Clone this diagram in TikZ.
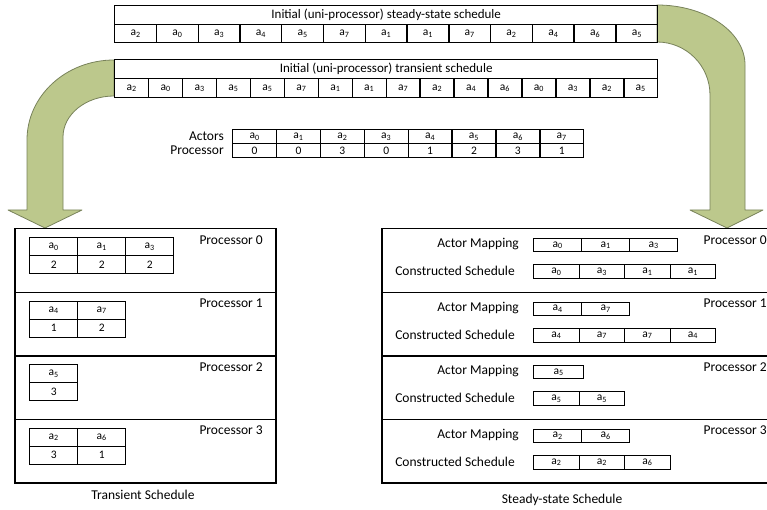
\documentclass[tikz,border=0pt]{standalone}
\usepackage{fontspec}
\setmainfont{Carlito}
\definecolor{arrowfill}{RGB}{188,200,140}
\definecolor{arrowline}{RGB}{120,130,90}
\newcommand{\arow}[6]{\foreach \t [count=\i from 0] in {#6} {\node[cell, minimum width=#4, minimum height=#5] (#1-\i) at ({#2+\i*#4},#3) {a\textsubscript{\t}};}}
\newcommand{\nrow}[6]{\foreach \t [count=\i from 0] in {#6} {\node[cell, minimum width=#4, minimum height=#5] (#1-\i) at ({#2+\i*#4},#3) {\t};}}
\begin{document}
\begin{tikzpicture}[x=1pt,y=-1pt,
  cell/.style={draw, line width=1.4pt, inner sep=0pt, anchor=north west, font=\fontsize{11.5}{12}\selectfont},
  titlebox/.style={draw, line width=1.4pt, inner sep=0pt, anchor=north west, font=\fontsize{13}{14}\selectfont},
  panel/.style={draw, line width=1.5pt, inner sep=0pt, anchor=north west},
  lbl/.style={inner sep=0pt, font=\fontsize{13.5}{15}\selectfont},
  bigarrow/.style={fill=arrowfill, draw=arrowline, line width=0.8pt, line join=round}]
\useasboundingbox (0,0) rectangle (767,510);

% curved arrows
\draw[bigarrow] (114,60) arc[start angle=-90, end angle=-180, x radius=87, y radius=80]
  -- (27,210) -- (8,210) -- (45,228) -- (82,210) -- (63,210) -- (63,137)
  arc[start angle=-180, end angle=-90, x radius=51, y radius=41] -- cycle;
\draw[bigarrow] (657,5) arc[start angle=-90, end angle=0, x radius=88, y radius=60]
  -- (745,210) -- (763,210) -- (727,228) -- (690,210) -- (710,210) -- (710,95)
  arc[start angle=0, end angle=-90, x radius=53, y radius=53] -- cycle;

% initial steady-state schedule
\node[titlebox, minimum width=543, minimum height=19] (sst) at (114,5) {Initial (uni-processor) steady-state schedule};
\arow{ss}{114}{24}{41.77}{18}{2,0,3,4,5,7,1,1,7,2,4,6,5}
% initial transient schedule
\node[titlebox, minimum width=543, minimum height=19] (trt) at (114,59) {Initial (uni-processor) transient schedule};
\arow{tr}{114}{78}{33.94}{19}{2,0,3,5,5,7,1,1,7,2,4,6,0,3,2,5}

% actor table
\node[lbl, anchor=east] (actlbl) at (224,136) {Actors};
\node[lbl, anchor=east] (proclbl) at (224,150) {Processor};
\arow{act}{232}{129}{43.875}{14}{0,1,2,3,4,5,6,7}
\nrow{prc}{232}{143}{43.875}{14}{0,0,3,0,1,2,3,1}

% transient schedule panel
\foreach \k/\y in {0/228,1/291.5,2/355,3/418.5}{
  \node[panel, minimum width=261, minimum height=63.5] (tp\k) at (14,\y) {};
  \node[lbl, anchor=east] (tpl\k) at (263,{\y+12}) {Processor \k};
}
\arow{t0a}{29}{237}{48}{18}{0,1,3}
\nrow{t0n}{29}{255}{48}{18}{2,2,2}
\arow{t1a}{29}{300.5}{48}{18}{4,7}
\nrow{t1n}{29}{318.5}{48}{18}{1,2}
\arow{t2a}{29}{364}{48}{18}{5}
\nrow{t2n}{29}{382}{48}{18}{3}
\arow{t3a}{29}{427.5}{48}{18}{2,6}
\nrow{t3n}{29}{445.5}{48}{18}{3,1}
\node[lbl] (tcap) at (143,495) {Transient Schedule};

% steady-state schedule panel
\foreach \k/\y in {0/228,1/291.5,2/355,3/418.5}{
  \node[panel, minimum width=390, minimum height=63.5] (sp\k) at (381,\y) {};
  \node[lbl, anchor=east] (spl\k) at (767,{\y+12}) {Processor \k};
  \node[lbl, anchor=east] (am\k) at (519,{\y+16.5}) {Actor Mapping};
  \node[lbl, anchor=east] (cs\k) at (515,{\y+43}) {Constructed Schedule};
}
\arow{s0m}{533}{238}{48}{13}{0,1,3}
\arow{s0c}{533}{264}{45.5}{14}{0,3,1,1}
\arow{s1m}{533}{301.5}{48}{13}{4,7}
\arow{s1c}{533}{327.5}{45.5}{14}{4,7,7,4}
\arow{s2m}{533}{365}{50}{13}{5}
\arow{s2c}{533}{391}{45.5}{14}{5,5}
\arow{s3m}{533}{428.5}{48}{13}{2,6}
\arow{s3c}{533}{454.5}{45.5}{14}{2,2,6}
\node[lbl] (scap) at (562,500) {Steady-state Schedule};
\end{tikzpicture}
\end{document}
